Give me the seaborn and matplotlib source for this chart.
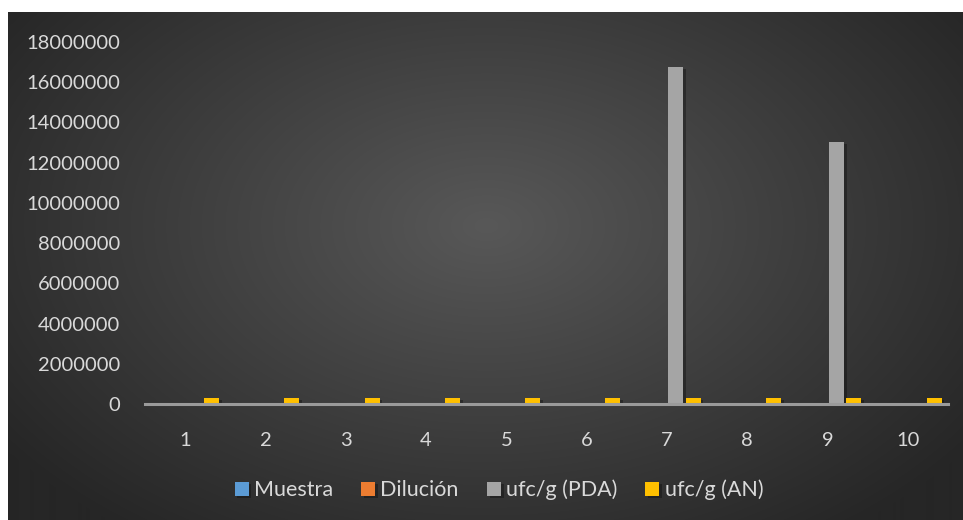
import numpy as np
import pandas as pd
import matplotlib
matplotlib.use("Agg")
import matplotlib.pyplot as plt
import matplotlib.patheffects as pe
import seaborn as sns

# Datos por muestra
categorias = ["1", "2", "3", "4", "5", "6", "7", "8", "9", "10"]
muestra = [1, 2, 3, 4, 5, 6, 7, 8, 9, 10]
dilucion = [3, 3, 3, 3, 3, 3, 3, 3, 3, 3]
ufc_pda = [0, 0, 0, 0, 0, 0, 16750000, 0, 13030000, 0]
ufc_an = [300000, 300000, 300000, 300000, 300000, 300000, 300000, 300000, 300000, 300000]

series = ["Muestra", "Dilución", "ufc/g (PDA)", "ufc/g (AN)"]
colores = ["#5B9BD5", "#ED7D31", "#A5A5A5", "#FFC000"]
y_ticks = [0, 2000000, 4000000, 6000000, 8000000, 10000000, 12000000,
           14000000, 16000000, 18000000]

df = pd.DataFrame({
    "Categoria": categorias * 4,
    "Serie": np.repeat(series, len(categorias)),
    "Valor": muestra + dilucion + ufc_pda + ufc_an,
})

sns.set_theme(style="white")
plt.rcParams["font.family"] = ["Lato", "DejaVu Sans"]
texto = "#D9D9D9"

fig = plt.figure(figsize=(9.63, 5.2), dpi=100)
fig.patch.set_facecolor("white")

# Fondo con degradado radial
bg = fig.add_axes([8 / 963, 0, 1 - 8 / 963, 1 - 12 / 520], zorder=-5)
h, w = 508, 955
yy, xx = np.mgrid[0:h, 0:w]
cx, cy = w * 0.50, h * 0.42
d = np.sqrt(((xx - cx) / (w * 0.62)) ** 2 + ((yy - cy) / (h * 0.75)) ** 2)
d = np.clip(d, 0, 1)
c = (0x58 * (1 - d) + 0x26 * d) / 255.0
bg.imshow(np.dstack([c, c, c]), aspect="auto", extent=[0, 1, 0, 1])
bg.set_axis_off()

ax = fig.add_axes([145 / 963, 1 - 404 / 520, (948 - 145) / 963, (404 - 42) / 520])
ax.patch.set_alpha(0)

sns.barplot(data=df, x="Categoria", y="Valor", hue="Serie", order=categorias,
            hue_order=series, palette=colores, width=0.872, gap=0.143,
            saturation=1, linewidth=0, ax=ax, legend=True)

for p in ax.patches:
    p.set_linewidth(0)
    p.set_path_effects([pe.SimplePatchShadow(offset=(2, -1.5), shadow_rgbFace="black",
                                             alpha=0.3), pe.Normal()])

ax.set_xlim(-0.5, len(categorias) - 0.5)
ax.set_ylim(0, 18000000)
ax.set_yticks(y_ticks)
ax.set_yticklabels([str(v) for v in y_ticks])
ax.set_xlabel("")
ax.set_ylabel("")
ax.tick_params(axis="y", length=0, pad=18, labelsize=14.5, labelcolor=texto)
ax.tick_params(axis="x", length=0, pad=20, labelsize=14.5, labelcolor=texto)

for s in ["top", "right", "left"]:
    ax.spines[s].set_visible(False)
ax.spines["bottom"].set_color("#9A9A9A")
ax.spines["bottom"].set_linewidth(2.2)
ax.grid(False)

handles, labels = ax.get_legend_handles_labels()
ax.get_legend().remove()
for hd in handles:
    hd.set_linewidth(0)
leg = fig.legend(handles, labels, loc="center", bbox_to_anchor=(499 / 963, 1 - 490 / 520),
                 ncol=4, frameon=False, fontsize=15.5, handlelength=0.65, handleheight=0.65,
                 handletextpad=0.25, columnspacing=1.3)
for t in leg.get_texts():
    t.set_color(texto)

fig.savefig("out.png", dpi=100)
